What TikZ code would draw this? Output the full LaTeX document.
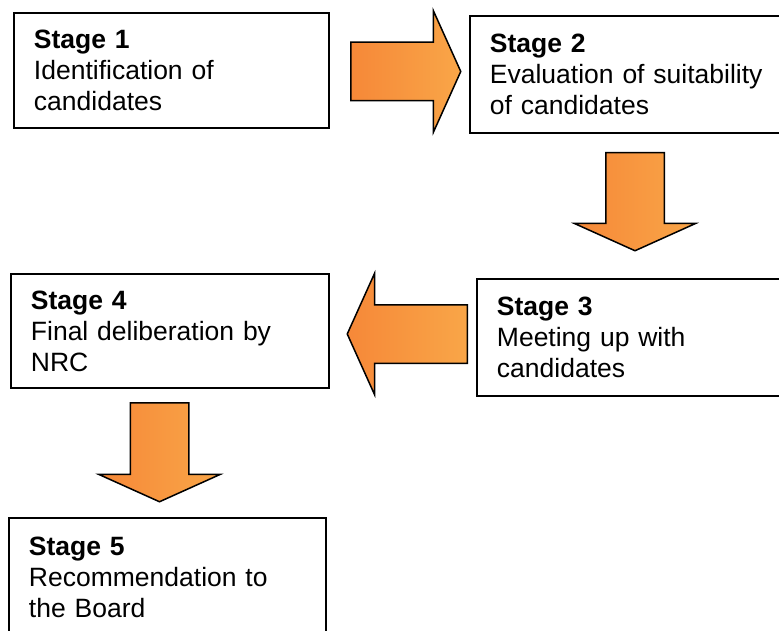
\documentclass[tikz,border=0pt]{standalone}
\usepackage{fontspec}
\setmainfont{Liberation Sans}
\usepackage{xcolor}
\usetikzlibrary{positioning, shapes.arrows}
\definecolor{flowDark}{RGB}{246,136,56}
\definecolor{flowLight}{RGB}{249,166,72}

\begin{document}
\begin{tikzpicture}[
    x=1pt, y=-1pt,
    stagebox/.style={
        rectangle,
        draw=black,
        line width=1.9pt,
        anchor=north west,
        minimum height=115pt,
        text width=275pt,
        inner xsep=20pt,
        align=left,
        font=\fontsize{26.5}{31}\selectfont
    },
    flowarrow/.style={
        single arrow,
        draw=black,
        line width=1.5pt,
        left color=flowDark, right color=flowLight,
        anchor=tail,
        inner xsep=0pt, inner ysep=28.5pt,
        single arrow head extend=31.5pt,
        single arrow tip angle=131.5,
        single arrow head indent=0pt
    }
]
    \useasboundingbox (0,0) rectangle (779,631);
    \clip (0,0) rectangle (779,631);

    % Stages
    \node[stagebox] (s1) at (13,12) {\textbf{Stage 1}\\Identification of\\candidates};
    \node[stagebox, minimum height=117pt] (s2) at (469,15) {\textbf{Stage 2}\\Evaluation of suitability\\of candidates};
    \node[stagebox, minimum height=117pt] (s3) at (476,278) {\textbf{Stage 3}\\Meeting up with\\candidates};
    \node[stagebox, minimum height=114pt, text width=278pt] (s4) at (10,273) {\textbf{Stage 4}\\Final deliberation by\\NRC};
    \node[stagebox, minimum height=118pt, text width=277pt] (s5) at (8,517) {\textbf{Stage 5}\\Recommendation to\\the Board};

    % Block arrows
    \node[flowarrow, minimum height=110pt] (a12) at (350,71.5) {};
    \node[flowarrow, minimum height=98pt, rotate=-90] (a23) at (635,152) {};
    \node[flowarrow, minimum height=120pt, rotate=180] (a34) at (468,334) {};
    \node[flowarrow, minimum height=99pt, rotate=-90] (a45) at (159.5,402) {};
\end{tikzpicture}
\end{document}
